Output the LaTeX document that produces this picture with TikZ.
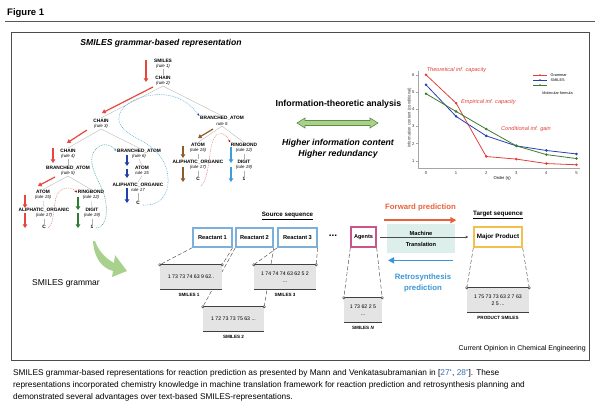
\documentclass[tikz,border=0pt]{standalone}
\usepackage{fontspec}
\setmainfont{Liberation Sans}
\usetikzlibrary{arrows.meta,backgrounds}

\definecolor{smred}{HTML}{E8453C}
\definecolor{smblue}{HTML}{2340A8}
\definecolor{smbrown}{HTML}{8E5B2A}
\definecolor{smsky}{HTML}{3E9BE0}
\definecolor{smgreen}{HTML}{2E7B34}
\definecolor{smpink}{HTML}{E58A8A}
\definecolor{smteal}{HTML}{49A9A3}
\definecolor{smcyan}{HTML}{62B2DA}
\definecolor{swoosh}{HTML}{A9D18E}
\definecolor{swooshdark}{HTML}{5E8E3E}
\definecolor{reactblue}{HTML}{7BAFDC}
\definecolor{agentpink}{HTML}{C9558A}
\definecolor{prodgold}{HTML}{F2C04D}
\definecolor{mtfill}{HTML}{DCEFEA}
\definecolor{fwdorange}{HTML}{E8603C}
\definecolor{retroblue}{HTML}{3D95D6}
\definecolor{seqgray}{HTML}{E4E4E4}
\definecolor{plotred}{HTML}{E0403A}
\definecolor{plotblue}{HTML}{2B3FB2}
\definecolor{plotgreen}{HTML}{3B7D2B}
\definecolor{citeblue}{HTML}{2F6DB5}

\newcommand{\fsz}[2]{\fontsize{#1pt}{#2pt}\selectfont}
\newcommand{\tlab}[2]{\textbf{#1}\\{\fsz{4.4}{5.4}\itshape #2}}

\begin{document}
\begin{tikzpicture}[x=1pt,y=-1pt,
    tnode/.style={align=center,inner sep=0.5pt,font=\fsz{4.8}{5.4}},
    tarr/.style={line width=1.2pt,-{Triangle[length=3.6pt,width=4.4pt]}},
    trav/.style={line width=0.55pt,dash pattern=on 0.9pt off 0.9pt,-{Stealth[length=2.8pt,width=2.4pt]}},
    reactbox/.style={draw=reactblue,line width=1.3pt,fill=white,minimum height=19pt,inner sep=0pt,font=\bfseries\fsz{5.7}{6.5}},
    seqbox/.style={fill=seqgray,minimum height=24pt,inner sep=0pt,align=center,font=\fsz{5.2}{7.5}},
    seqlab/.style={font=\bfseries\fsz{4.6}{5},inner sep=0pt},
    seqlink/.style={draw=gray!55!black,line width=0.45pt,dash pattern=on 4pt off 2.2pt},
    ticklab/.style={font=\fsz{4.2}{5},text=gray!40!black,inner sep=0.5pt},
    annot/.style={font=\itshape\fsz{5.6}{6.5},text=plotred,inner sep=0pt}]

\useasboundingbox (0,0) rectangle (600,408);

\node[anchor=west,font=\bfseries\fsz{9.5}{11},inner sep=0pt] (fig) at (7,13) {Figure 1};
\draw[gray!70!black,line width=1pt] (5,21) -- (595,21);
\draw[gray!60!black,line width=0.6pt] (11,32) rectangle (589,360);
\node[font=\bfseries\itshape\fsz{8.6}{10}] (title) at (161,43) {SMILES grammar-based representation};

% parse tree
\begin{scope}[every node/.style={tnode}]
    \node (smiles) at (163,63.5) {\tlab{SMILES}{(rule 1)}};
    \node (chain2) at (163,80.5) {\tlab{CHAIN}{(rule 2)}};
    \node (chain3) at (101,123.5) {\tlab{CHAIN}{(rule 3)}};
    \node (batom5r) at (222,121) {\tlab{BRANCHED\_ATOM}{rule 5}};
    \node (chain4) at (68,153.5) {\tlab{CHAIN}{(rule 4)}};
    \node (batom6) at (139,153.5) {\tlab{BRANCHED\_ATOM}{(rule 6)}};
    \node (batom5l) at (68,170.5) {\tlab{BRANCHED\_ATOM}{(rule 5)}};
    \node (atom15l) at (43,195) {\tlab{ATOM}{(rule 15)}};
    \node (ring12l) at (91,195) {\tlab{RINGBOND}{(rule 12)}};
    \node (ali17l) at (44,213) {\tlab{ALIPHATIC\_ORGANIC}{(rule 17)}};
    \node (digit19l) at (92,213) {\tlab{DIGIT}{(rule 19)}};
    \node (cl) at (44,227) {\textbf{C}};
    \node (onel) at (92,227) {\textbf{1}};
    \node (atom15m) at (142,170.5) {\tlab{ATOM}{rule 15}};
    \node (ali17m) at (138,187.5) {\tlab{ALIPHATIC\_ORGANIC}{rule 17}};
    \node (cm) at (138,203) {\textbf{C}};
    \node (atom15r) at (198,148) {\tlab{ATOM}{(rule 15)}};
    \node (ring12r) at (244,148) {\tlab{RINGBOND}{(rule 12)}};
    \node (ali17r) at (198,165) {\tlab{ALIPHATIC\_ORGANIC}{(rule 17)}};
    \node (digit19r) at (244,165) {\tlab{DIGIT}{(rule 19)}};
    \node (cr) at (198,179) {\textbf{C}};
    \node (oner) at (244,179) {\textbf{1}};
\end{scope}

\begin{scope}[every edge/.style={draw=gray!60,line width=0.35pt}]
    \path (smiles.south) edge (chain2.north)
          (chain2.south) edge (chain3.north) edge (batom5r.north)
          (chain3.south) edge (chain4.north) edge (batom6.north)
          (chain4.south) edge (batom5l.north)
          (batom5l.south) edge (atom15l.north) edge (ring12l.north)
          (atom15l.south) edge (ali17l.north)
          (ali17l.south) edge (cl.north)
          (ring12l.south) edge (digit19l.north)
          (digit19l.south) edge (onel.north)
          (batom6.south) edge (atom15m.north)
          (atom15m.south) edge (ali17m.north)
          (ali17m.south) edge (cm.north)
          (batom5r.south) edge (atom15r.north) edge (ring12r.north)
          (atom15r.south) edge (ali17r.north)
          (ali17r.south) edge (cr.north)
          (ring12r.south) edge (digit19r.north)
          (digit19r.south) edge (oner.north);
\end{scope}

\begin{scope}[tarr]
    \draw[smred] ([shift={(-17,-3.5)}]smiles.center) -- ([shift={(-17,1.5)}]chain2.center);
    \draw[smred] ([shift={(-10,6.5)}]chain2.center) -- ([shift={(1,-10.5)}]chain3.center);
    \draw[smred] ([shift={(-14,6.5)}]chain3.center) -- ([shift={(-1,-10.5)}]chain4.center);
    \draw[smred] ([shift={(-15,-5.5)}]chain4.center) -- ([shift={(-15,-7.5)}]batom5l.center);
    \draw[smred] ([shift={(-13,6.5)}]batom5l.center) -- ([shift={(-5,-9)}]atom15l.center);
    \draw[smred] ([shift={(-18,0)}]atom15l.center) -- ([shift={(-19,-5)}]ali17l.center);
    \draw[smred] ([shift={(-19,0)}]ali17l.center) -- ([shift={(-19,1)}]cl.center);
    \draw[smgreen] ([shift={(-13,2)}]ring12l.center) -- ([shift={(-14,-3)}]digit19l.center);
    \draw[smgreen] ([shift={(-14,0)}]digit19l.center) -- ([shift={(-14,1)}]onel.center);
    \draw[smblue] ([shift={(-12,1.5)}]batom6.center) -- ([shift={(-15,-4.5)}]atom15m.center);
    \draw[smblue] ([shift={(-15,-1.5)}]atom15m.center) -- ([shift={(-11,-9.5)}]ali17m.center);
    \draw[smblue] ([shift={(-11,0.5)}]ali17m.center) -- ([shift={(-11,0)}]cm.center);
    \draw[smbrown] ([shift={(-9,8)}]batom5r.center) -- ([shift={(0,-10)}]atom15r.center);
    \draw[smbrown] ([shift={(-15,-2)}]atom15r.center) -- ([shift={(-15,-7)}]ali17r.center);
    \draw[smbrown] ([shift={(-15,2)}]ali17r.center) -- ([shift={(-15,3)}]cr.center);
    \draw[smsky] ([shift={(-13,-1)}]ring12r.center) -- ([shift={(-13,-2)}]digit19r.center);
    \draw[smsky] ([shift={(-13,2)}]digit19r.center) -- ([shift={(-13,3)}]oner.center);
\end{scope}

\draw[trav,smpink,-{Stealth[length=2.8pt,width=2.4pt,color=red!65!black]}]
    ([shift={(4,1)}]cl.center) .. controls (55,224) and (53,203) .. (57,195)
    .. controls (61,187) and (70,186) .. ([shift={(0,-2.5)}]ring12l.west);
\draw[trav,smteal]
    ([shift={(4,1)}]onel.center) .. controls (108,228) and (109,205) .. (102,189)
    .. controls (95,174) and (87,160) .. (95,150)
    .. controls (101,143) and (109,143) .. ([shift={(0,-2.5)}]batom6.west);
\draw[trav,smcyan,-{Stealth[length=2.8pt,width=2.4pt,color=smblue]}]
    ([shift={(5,2)}]cm.center) .. controls (160,206) and (169,195) .. (168,178)
    .. controls (167,160) and (155,148) .. (140,140)
    .. controls (125,132) and (114,124) .. (121,111)
    .. controls (128,99) and (150,93) .. (166,95)
    .. controls (182,97) and (192,106) .. (batom5r.north west);
\draw[trav,smpink,-{Stealth[length=2.8pt,width=2.4pt,color=red!65!black]}]
    ([shift={(3,7)}]cr.center) .. controls (210,178) and (208,150) .. (214,138)
    .. controls (218,131) and (225,132) .. (ring12r.north west);

\node[font=\fsz{8.5}{10}] (grammar) at (66,283) {SMILES grammar};
\fill[swoosh] (93,241) .. controls (94,258) and (102,268) .. (113,271) -- (112,277) -- (127,271)
    -- (115,255) -- (114,263) .. controls (105,258) and (98,250) .. (95,241) -- cycle;

% information analysis
\node[font=\bfseries\fsz{8.8}{10}] (info) at (338.5,104) {Information-theoretic analysis};
\filldraw[fill=swoosh,draw=swooshdark,line width=0.6pt] (297,123) -- (305,118) -- (305,120.5) -- (370,120.5)
    -- (370,118) -- (378,123) -- (370,128) -- (370,125.5) -- (305,125.5) -- (305,128) -- cycle;
\node[align=center,font=\bfseries\itshape\fsz{8.7}{11}] (higher) at (338,149) {Higher information content\\Higher redundancy};

% plot
\begin{scope}[shift={(426,178)},x=30.1pt,y=17.2pt]
    \draw[gray!70,line width=0.5pt] (-0.27,6.2) -- (-0.27,0.58) -- (5.12,0.58);
    \foreach \v in {1,...,6} {
        \draw[gray!70,line width=0.4pt] (-0.27,\v) -- (-0.33,\v);
        \node[ticklab] (yt\v) at (-0.42,\v) {\v};
    }
    \foreach \u in {0,...,5} {
        \draw[gray!70,line width=0.4pt] (\u,0.58) -- (\u,0.5);
        \node[ticklab] (xt\u) at (\u,0.3) {\u};
    }
    \node[ticklab,rotate=90] (ylab) at (-0.55,3.5) {Information content (conditional)};
    \node[ticklab,text=black] (xlab) at (2.53,0) {Order (η)};
    \draw[plotred,line width=0.8pt,mark=*,mark size=0.85pt] plot coordinates {(0,6) (1,4.35) (2,1.25) (3,1.1) (4,0.84) (5,0.77)};
    \draw[plotblue,line width=0.8pt,mark=*,mark size=0.85pt] plot coordinates {(0,5.42) (1,3.58) (2,2.45) (3,1.87) (4,1.6) (5,1.4)};
    \draw[plotgreen,line width=0.8pt,mark=*,mark size=0.85pt] plot coordinates {(0,4.9) (1,3.87) (2,2.85) (3,1.87) (4,1.36) (5,1.13)};
    \node[annot,anchor=west] (theo) at (0.02,6.3) {Theoretical inf. capacity};
    \node[annot,anchor=west] (emp) at (1.16,4.42) {Empirical inf. capacity};
    \node[annot,anchor=west] (cond) at (2.49,2.85) {Conditional inf. gain};
    \foreach \c/\h/\t in {plotred/5.99/Grammar,plotblue/5.7/SMILES,plotgreen/5.41/{}} {
        \draw[\c,line width=0.7pt] (3.55,\h) -- (4.02,\h);
        \fill[\c] (3.785,\h) circle (0.85pt);
        \node[ticklab,text=black,anchor=west,font=\fsz{3.8}{4.5}] (lg\c) at (4.12,\h) {\t};
    }
    \node[ticklab,text=black,font=\fsz{3.8}{4.5}] (lgmol) at (4.37,4.94) {Molecular formula};
\end{scope}

% sequences
\node[font=\bfseries\fsz{6.2}{7}] (src) at (287.5,216) {\underline{Source sequence}};
\node[reactbox,minimum width=39pt] (r1) at (212.5,237.5) {Reactant 1};
\node[reactbox,minimum width=37pt] (r2) at (254.5,237.5) {Reactant 2};
\node[reactbox,minimum width=39pt] (r3) at (297.5,237.5) {Reactant 3};
\node[font=\bfseries\fsz{10}{10}] (dots) at (333,236) {...};
\node[reactbox,draw=agentpink,minimum width=25pt,minimum height=20pt,font=\bfseries\fsz{5.6}{6.5}] (agents) at (363.5,237) {Agents};
\node[fill=mtfill,minimum width=68pt,minimum height=29pt,align=center,font=\bfseries\fsz{5.7}{11}] (mt) at (421,238.5) {Machine\\Translation};
\node[reactbox,draw=prodgold,minimum width=48pt,minimum height=20pt,font=\bfseries\fsz{6.3}{7}] (mp) at (498,237) {Major Product};
\node[font=\bfseries\fsz{6.3}{7}] (tgt) at (498,215) {\underline{Target sequence}};
\node[font=\bfseries\fsz{7.8}{9},text=fwdorange] (fwd) at (420.5,207) {Forward prediction};
\node[align=center,font=\bfseries\fsz{7.8}{11},text=retroblue] (retro) at (423,282.5) {Retrosynthesis\\prediction};

\draw[gray!60!black,line width=0.6pt,shorten <=3pt,shorten >=5pt,-{Stealth[length=3pt,width=2.6pt]}] (agents.east) -- (mp.west);
\draw[fwdorange,line width=1.5pt,-{Triangle[length=6pt,width=6pt]}] ([shift={(2,6)}]fwd.south west) -- ([shift={(-3,6)}]fwd.south east);
\draw[retroblue,line width=1.5pt,-{Triangle[length=6pt,width=6pt]}] ([shift={(30,-9.5)}]retro.north) -- ([shift={(-35,-9.5)}]retro.north);

\node[seqbox,minimum width=62pt] (s1) at (191,277) {1 73 73 74 63 9 62..};
\node[seqbox,minimum width=62pt] (s3) at (285,277) {1 74 74 74 63 62 5 2\\...};
\node[seqbox,minimum width=61pt] (s2) at (233.5,319) {1 72 73 73 75 63 ...};
\node[seqbox,minimum width=38pt] (sn) at (363,310) {1 73 62 2 5\\...};
\node[seqbox,minimum width=62pt] (ps) at (498,300) {1 75 73 73 63 2 7 63\\2 5 ...};
\node[seqlab] (s1lab) at (189,295) {SMILES 1};
\node[seqlab] (s3lab) at (285,295) {SMILES 3};
\node[seqlab] (s2lab) at (233.5,337) {SMILES 2};
\node[seqlab] (snlab) at (363,328) {SMILES \textit{N}};
\node[seqlab] (pslab) at (498,318) {PRODUCT SMILES};

\begin{scope}[on background layer]
    \path[every edge/.style={seqlink}]
        (r1.south west) edge (s1.north west) (r1.south east) edge (s1.north east)
        (r2.south west) edge (s2.north west) (r2.south east) edge (s2.north east)
        (r3.south west) edge (s3.north west) (r3.south east) edge (s3.north east)
        (agents.south west) edge (sn.north west) (agents.south east) edge (sn.north east)
        (mp.south west) edge (ps.north west) (mp.south east) edge (ps.north east);
\end{scope}
\foreach \s in {s1,s2,s3,sn,ps} {
    \draw[gray!50!black,line width=1.1pt] (\s.north west) -- (\s.north east);
    \draw[gray!50!black,line width=0.5pt] (\s.south west) -- (\s.south east);
    \draw[gray!55!black,fill=white,line width=0.45pt] (\s.north west) circle (1.2pt) (\s.north east) circle (1.2pt);
}

\node[anchor=east,font=\fsz{7}{8},inner sep=0pt] (journal) at (586,349) {Current Opinion in Chemical Engineering};
\node[anchor=north west,align=left,inner sep=0pt,font=\fsz{8.3}{12}] (caption) at (13,369)
    {SMILES grammar-based representations for reaction prediction as presented by Mann and Venkatasubramanian in [{\color{citeblue}27\textsuperscript{•}}, {\color{citeblue}28\textsuperscript{•}}]. These\\
     representations incorporated chemistry knowledge in machine translation framework for reaction prediction and retrosynthesis planning and\\
     demonstrated several advantages over text-based SMILES-representations.};
\end{tikzpicture}
\end{document}
